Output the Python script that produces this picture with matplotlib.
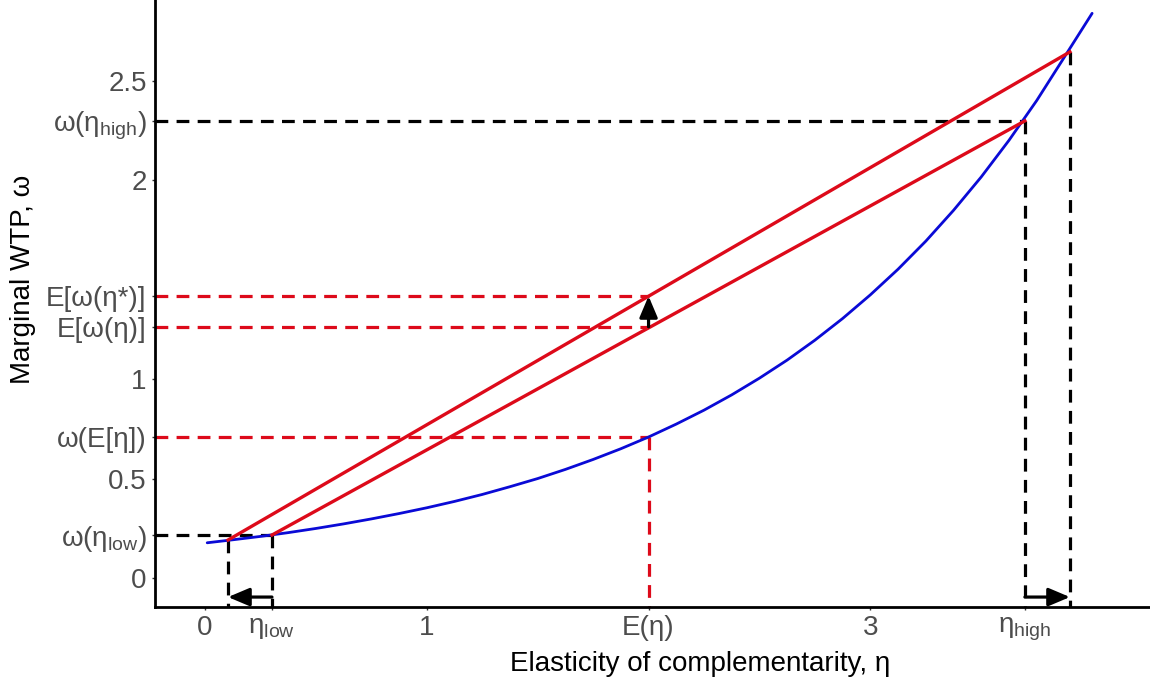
import matplotlib
matplotlib.use('Agg')
import matplotlib.pyplot as plt

plt.rcParams['font.family'] = ['Liberation Sans', 'DejaVu Sans']
plt.rcParams['mathtext.fontset'] = 'custom'
plt.rcParams['mathtext.rm'] = 'Liberation Sans'

# blue curve omega(eta)
eta = [0.01, 0.125, 0.25, 0.375, 0.5, 0.625, 0.75, 0.875, 1.0, 1.125, 1.25,
       1.375, 1.5, 1.625, 1.75, 1.875, 2.0, 2.125, 2.25, 2.375, 2.5, 2.625,
       2.75, 2.875, 3.0, 3.125, 3.25, 3.375, 3.5, 3.625, 3.75, 3.875, 4.0]
omega = [0.177, 0.192, 0.209, 0.228, 0.249, 0.272, 0.297, 0.324, 0.353, 0.385,
         0.420, 0.459, 0.500, 0.546, 0.596, 0.650, 0.709, 0.774, 0.844, 0.921,
         1.005, 1.096, 1.196, 1.305, 1.424, 1.553, 1.694, 1.849, 2.017, 2.201,
         2.401, 2.620, 2.84]

# key points
eta_low, w_low = 0.302, 0.216
eta_low2, w_low2 = 0.104, 0.191
eta_high, w_high = 3.697, 2.299
eta_high2, w_high2 = 3.90, 2.646
e_eta, w_e = 2.0, 0.709
e_w, e_w2 = 1.263, 1.418
arrow_y = -0.096

xlim = (-0.2254, 4.261)
ylim = (-0.146, 2.907)

RED = '#DD0A1A'
BLUE = '#0A0AD6'
GRAY = '#4D4D4D'

fig = plt.figure(figsize=(11.5, 6.86), dpi=100)
ax = fig.add_axes([155 / 1150, 1 - 607 / 686, 1 - 155 / 1150, 607 / 686])
ax.set_xlim(*xlim)
ax.set_ylim(*ylim)

dash = dict(lw=2.3, dashes=(4, 2.6))

# black dashed guides
ax.plot([xlim[0], eta_low], [w_low, w_low], color='black', **dash)
ax.plot([eta_low, eta_low], [w_low, ylim[0]], color='black', **dash)
ax.plot([eta_low2, eta_low2], [w_low2, ylim[0]], color='black', **dash)
ax.plot([xlim[0], eta_high], [w_high, w_high], color='black', **dash)
ax.plot([eta_high, eta_high], [w_high, ylim[0]], color='black', **dash)
ax.plot([eta_high2, eta_high2], [w_high2, ylim[0]], color='black', **dash)

# red dashed guides
for yv in [e_w2, e_w, w_e]:
    ax.plot([xlim[0], e_eta], [yv, yv], color=RED, **dash)
ax.plot([e_eta, e_eta], [w_e, ylim[0]], color=RED, **dash)

# curve and chords
ax.plot(eta, omega, color=BLUE, lw=2.0, solid_capstyle='round')
ax.plot([eta_low, eta_high], [w_low, w_high], color=RED, lw=2.4)
ax.plot([eta_low2, eta_high2], [w_low2, w_high2], color=RED, lw=2.4)

# arrows
aprops = dict(arrowstyle='-|>,head_length=1.3,head_width=0.55', color='black', lw=2.3,
              shrinkA=0, shrinkB=0)
ax.annotate('', xy=(e_eta, e_w2), xytext=(e_eta, e_w), arrowprops=aprops)
ax.annotate('', xy=(eta_low2, arrow_y), xytext=(eta_low, arrow_y), arrowprops=aprops)
ax.annotate('', xy=(eta_high2, arrow_y), xytext=(eta_high, arrow_y), arrowprops=aprops)

# ticks
xticks = [0, eta_low, 1, e_eta, 3, eta_high]
xlabels = ['0', r'$\mathregular{η_{low}}$', '1', 'E(η)', '3', r'$\mathregular{η_{high}}$']
yticks = [0, w_low, 0.5, w_e, 1, e_w, e_w2, 2, w_high, 2.5]
ylabels = ['0', r'$\mathregular{ω(η_{low})}$', '0.5', 'ω(E[η])', '1', 'E[ω(η)]',
           'E[ω(η*)]', '2', r'$\mathregular{ω(η_{high})}$', '2.5']
ax.set_xticks(xticks)
ax.set_xticklabels(xlabels)
ax.set_yticks(yticks)
ax.set_yticklabels(ylabels)
ax.tick_params(axis='both', labelsize=20, labelcolor=GRAY, color='#333333',
               length=2, width=1, pad=4)

for s in ['top', 'right']:
    ax.spines[s].set_visible(False)
for s in ['left', 'bottom']:
    ax.spines[s].set_linewidth(2.0)

fig.text(700 / 1150, 1 - 664 / 686, 'Elasticity of complementarity, η',
         ha='center', va='center', fontsize=20)
fig.text(23 / 1150, 1 - 279 / 686, 'Marginal WTP, ω', rotation=90,
         ha='center', va='center', fontsize=20)

fig.savefig('out.png', dpi=100)
